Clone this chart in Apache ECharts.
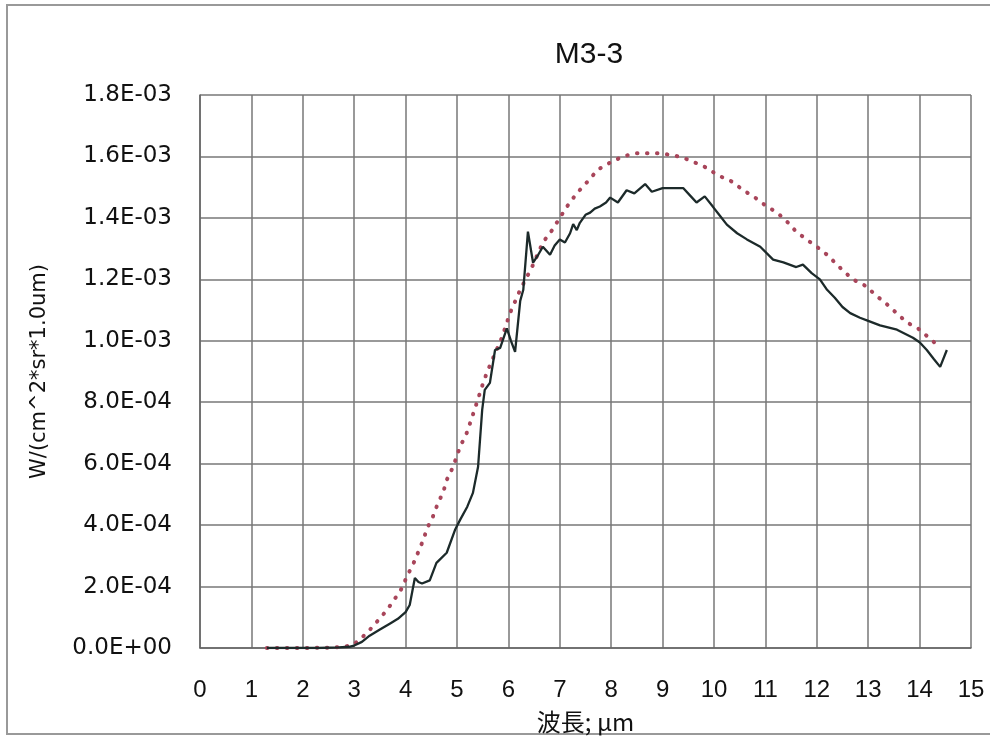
<!DOCTYPE html>
<html>
<head>
<meta charset="utf-8">
<script src="https://cdn.jsdelivr.net/npm/echarts@6/dist/echarts.min.js"></script>
<style>
html,body{margin:0;padding:0;background:#fff;}
#chart{width:990px;height:739px;}
</style>
</head>
<body>
<div id="chart"></div>
<script>
// Values in units of 1E-03 W/(cm^2*sr*1.0um)
const measuredX = [1.3,1.8,2.3,2.7,2.9,3.0,3.15,3.3,3.5,3.7,3.85,4.0,4.08,4.18,4.25,4.32,4.47,4.6,4.8,4.96,5.06,5.2,5.31,5.41,5.49,5.54,5.64,5.74,5.84,5.97,6.05,6.13,6.23,6.29,6.38,6.48,6.58,6.67,6.81,6.9,7.0,7.1,7.2,7.26,7.33,7.39,7.5,7.59,7.68,7.78,7.9,7.98,8.13,8.3,8.45,8.66,8.79,9.0,9.2,9.4,9.55,9.66,9.82,9.98,10.1,10.25,10.45,10.64,10.9,11.15,11.35,11.6,11.73,11.9,12.06,12.2,12.35,12.5,12.65,12.84,13.0,13.23,13.56,13.87,14.0,14.14,14.28,14.4,14.53];
const measuredY = [0,0,0,0.002,0.004,0.008,0.02,0.04,0.06,0.08,0.095,0.117,0.14,0.228,0.215,0.21,0.22,0.277,0.31,0.384,0.417,0.46,0.505,0.59,0.775,0.84,0.863,0.97,0.977,1.04,1.0,0.964,1.13,1.166,1.355,1.254,1.28,1.306,1.28,1.31,1.33,1.32,1.35,1.38,1.36,1.384,1.41,1.417,1.43,1.437,1.45,1.466,1.45,1.49,1.48,1.51,1.485,1.497,1.497,1.497,1.47,1.45,1.47,1.436,1.41,1.378,1.35,1.33,1.306,1.264,1.255,1.24,1.248,1.22,1.2,1.166,1.14,1.11,1.09,1.075,1.065,1.05,1.036,1.01,0.995,0.97,0.94,0.915,0.97];
const calcX = [1.3,2.0,2.5,2.8,2.98,3.25,3.44,3.64,3.79,3.93,4.03,4.14,4.24,4.34,4.42,4.53,4.63,4.73,4.8,4.92,5.06,5.19,5.35,5.49,5.58,5.88,6.03,6.23,6.46,6.67,6.85,7.0,7.14,7.33,7.55,7.74,7.98,8.23,8.46,8.7,8.91,9.18,9.4,9.63,9.86,10.06,10.35,10.57,10.8,11.03,11.23,11.42,11.6,11.8,12.0,12.2,12.5,12.7,12.98,13.13,13.33,13.52,13.75,13.97,14.16,14.34];
const calcY = [0,0,0.001,0.004,0.01,0.049,0.085,0.124,0.16,0.195,0.235,0.27,0.31,0.35,0.39,0.427,0.472,0.506,0.547,0.588,0.655,0.7,0.78,0.853,0.896,1.013,1.09,1.166,1.24,1.32,1.36,1.4,1.437,1.48,1.52,1.557,1.58,1.6,1.61,1.61,1.61,1.605,1.596,1.58,1.563,1.54,1.518,1.49,1.466,1.437,1.417,1.388,1.355,1.33,1.306,1.28,1.23,1.2,1.176,1.15,1.124,1.095,1.06,1.04,1.013,0.987];
const UNIT = 1e-3;
const titleText = 'M3-3';
const xName = '波長; μm';
const yName = 'W/(cm^2*sr*1.0um)';

function pairs(xs, ys){ return xs.map((x,i)=>[x, ys[i]*UNIT]); }
function sci(v){
  if (Math.abs(v) < 1e-12) return '0.0E+00';
  const s = v.toExponential(1).toUpperCase();
  const m = s.match(/^(-?[\d.]+)E([+-])(\d+)$/);
  if (!m) return s;
  return m[1] + 'E' + m[2] + (m[3].length < 2 ? '0' + m[3] : m[3]);
}
const FONT = '"Liberation Sans", Arial, sans-serif';
const WIDE = '"DejaVu Sans", sans-serif';
const chart = echarts.init(document.getElementById('chart'));
chart.setOption({
  backgroundColor: '#fff',
  animation: false,
  title: {
    text: titleText, left: 584, top: 35, textAlign: 'center',
    textStyle: {fontFamily: FONT, fontSize: 30, fontWeight: 'normal', color: '#111'}
  },
  graphic: [{
    type: 'rect', shape: {x: 7, y: 5, width: 990, height: 729},
    style: {fill: 'none', stroke: '#999', lineWidth: 2}, silent: true
  }],
  grid: {left: 200, right: 19, top: 95, bottom: 91},
  xAxis: {
    type: 'value', min: 0, max: 15, interval: 1,
    name: xName, nameLocation: 'middle', nameGap: 62,
    nameTextStyle: {fontFamily: '"Noto Sans CJK JP", sans-serif', fontSize: 24, color: '#111'},
    axisLine: {show: true, lineStyle: {color: '#666', width: 1.5}},
    axisTick: {show: false},
    axisLabel: {fontFamily: FONT, fontSize: 24, color: '#111', margin: 30},
    splitLine: {show: true, lineStyle: {color: '#777', width: 1.5}}
  },
  yAxis: {
    type: 'value', min: 0, max: 0.0018, interval: 0.0002,
    name: yName, nameLocation: 'middle', nameGap: 150, nameRotate: 90,
    nameTextStyle: {fontFamily: WIDE, fontSize: 21, color: '#111'},
    axisLine: {show: true, lineStyle: {color: '#666', width: 1.5}},
    axisTick: {show: false},
    axisLabel: {fontFamily: WIDE, fontSize: 23, color: '#111', margin: 28, formatter: sci},
    splitLine: {show: true, lineStyle: {color: '#777', width: 1.5}}
  },
  series: [
    {
      name: 'calc', type: 'line', data: pairs(calcX, calcY), showSymbol: false, smooth: false,
      lineStyle: {color: '#a8455a', width: 4, type: [0.5, 9.5], cap: 'round'}, z: 3
    },
    {
      name: 'measured', type: 'line', data: pairs(measuredX, measuredY), showSymbol: false,
      lineStyle: {color: '#1c2a2a', width: 2.3}, z: 4
    }
  ]
});
</script>
</body>
</html>
